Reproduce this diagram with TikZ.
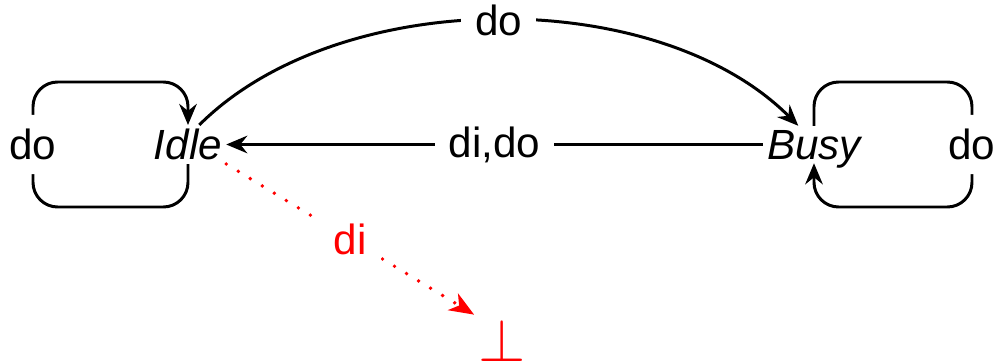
\documentclass[tikz,border=0pt]{standalone}
\usepackage{fontspec}
\setmainfont{Liberation Sans}
\usepackage{tikz}
\usetikzlibrary{arrows.meta, positioning}
\usetikzlibrary{calc}

\begin{document}
\begin{tikzpicture}[x=0.01cm, y=-0.01cm, font=\fontsize{12}{14}\selectfont,
  state/.style={inner sep=1pt, text depth=0pt, font=\fontsize{12}{14}\selectfont\itshape},
  lbl/.style={fill=white, inner sep=4pt},
  edge/.style={line width=0.85pt, -{Stealth[length=6pt,width=5pt,inset=2pt]}},
  fail/.style={red, line width=1.1pt, dash pattern=on 0pt off 4pt, line cap=round,
    -{Stealth[length=7pt,width=5.5pt,inset=2pt]}}]
\useasboundingbox (0,0) rectangle (1002,364);
\node[state] (idle) at (188,144.5) {Idle};
\node[state] (busy) at (814,144.5) {Busy};
\node[red, inner sep=1pt, font=\fontsize{17.5}{18}\selectfont] (bot) at (502,340) {$\bot$};
\coordinate (lb) at (33,207);
\coordinate (lt) at (33,82);
\coordinate (rt) at (972,82);
\coordinate (rb) at (972,207);
\draw[edge, rounded corners=7pt] (idle.south) |- (lb) -- node[lbl] {do} (lt) -| (idle.north);
\draw[edge, rounded corners=7pt] (busy.north) |- (rt) -- node[lbl] {do} (rb) -| (busy.south);
\draw[edge] (idle.60) to[bend left=45, looseness=0.85] node[lbl] {do} (busy.130);
\draw[edge] (busy) -- node[lbl] {di,do} (idle);
\draw[fail] (idle.south east) -- node[lbl] {di} (bot.north west);
\end{tikzpicture}
\end{document}
